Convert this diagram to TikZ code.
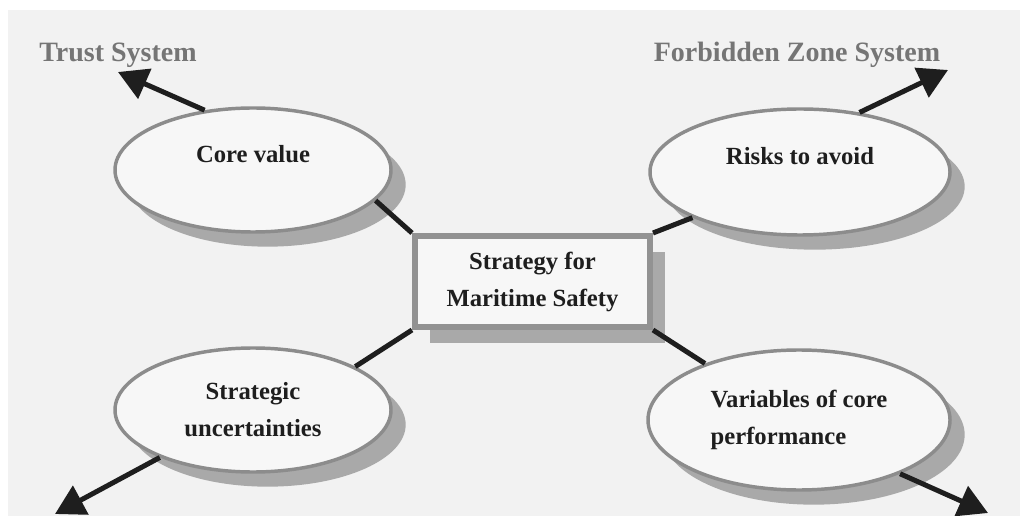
\documentclass[tikz,border=0pt]{standalone}
\usepackage{fontspec}
\setmainfont{Liberation Serif}
\usetikzlibrary{shapes.geometric,arrows.meta,shadows}
\definecolor{bg}{HTML}{F2F2F2}
\definecolor{ellfill}{HTML}{F7F7F7}
\definecolor{ellline}{HTML}{8C8C8C}
\definecolor{shd}{HTML}{A9A9A9}
\definecolor{lbl}{HTML}{757575}
\definecolor{ink}{HTML}{1E1E1E}
\tikzset{
  ellnode/.style={ellipse, draw=ellline, line width=2.6pt, fill=ellfill, inner sep=0pt,
    font=\fontsize{18.5pt}{27.75pt}\selectfont\bfseries, text=ink,
    drop shadow={shadow xshift=11pt, shadow yshift=-11pt, fill=shd, opacity=1}},
  boxnode/.style={rectangle, draw=ellline!95, line width=4.5pt, fill=ellfill, inner sep=0pt,
    font=\fontsize{18.5pt}{27.75pt}\selectfont\bfseries, text=ink, align=center,
    drop shadow={shadow xshift=11pt, shadow yshift=-12pt, fill=shd, opacity=1}},
  syslabel/.style={font=\fontsize{21pt}{25pt}\selectfont\bfseries, text=lbl},
  link/.style={draw=ink, line width=3.75pt},
  outarrow/.style={draw=ink, line width=3.75pt, -{Triangle[length=22pt,width=24pt]}},
}
\begin{document}
\begin{tikzpicture}[x=0.75pt,y=-0.75pt]
  \useasboundingbox (0,0) rectangle (1020,516);
  \fill[white] (0,0) rectangle (1020,516);
  \fill[bg] (8,10) rectangle (1020,516);

  \node[ellnode, minimum width=276*0.75pt, minimum height=124*0.75pt, text height=12pt, text depth=22.5pt] (cv) at (253,170) {Core value};
  \node[ellnode, minimum width=300*0.75pt, minimum height=126*0.75pt, text height=12pt, text depth=22.5pt] (ra) at (800,172) {Risks to avoid};
  \node[ellnode, minimum width=276*0.75pt, minimum height=124*0.75pt, align=center] (su) at (253,410) {Strategic\\uncertainties};
  \node[ellnode, minimum width=302*0.75pt, minimum height=140*0.75pt, align=left] (vc) at (799,420) {Variables of core\\performance};

  \node[boxnode, minimum width=235*0.75pt, minimum height=91*0.75pt] (sm) at (532.5,281.5) {Strategy for\\Maritime Safety};

  \node[syslabel] (ts) at (118,55) {Trust System};
  \node[syslabel] (fz) at (797,55) {Forbidden Zone System};

  \coordinate (tsTip) at (118,72);
  \coordinate (fzTip) at (948,70);
  \coordinate (suTip) at (55,514);
  \coordinate (vcTip) at (988,513);

  \draw[link] (cv.346) -- (sm.north west);
  \draw[link] (ra.203) -- (sm.north east);
  \draw[link] (su.23) -- (sm.south west);
  \draw[link] (vc.149) -- (sm.south east);

  \draw[outarrow] (cv.129) -- (tsTip);
  \draw[outarrow] (ra.45) -- (fzTip);
  \draw[outarrow] (su.207) -- (suTip);
  \draw[outarrow] (vc.332) -- (vcTip);
\end{tikzpicture}
\end{document}
